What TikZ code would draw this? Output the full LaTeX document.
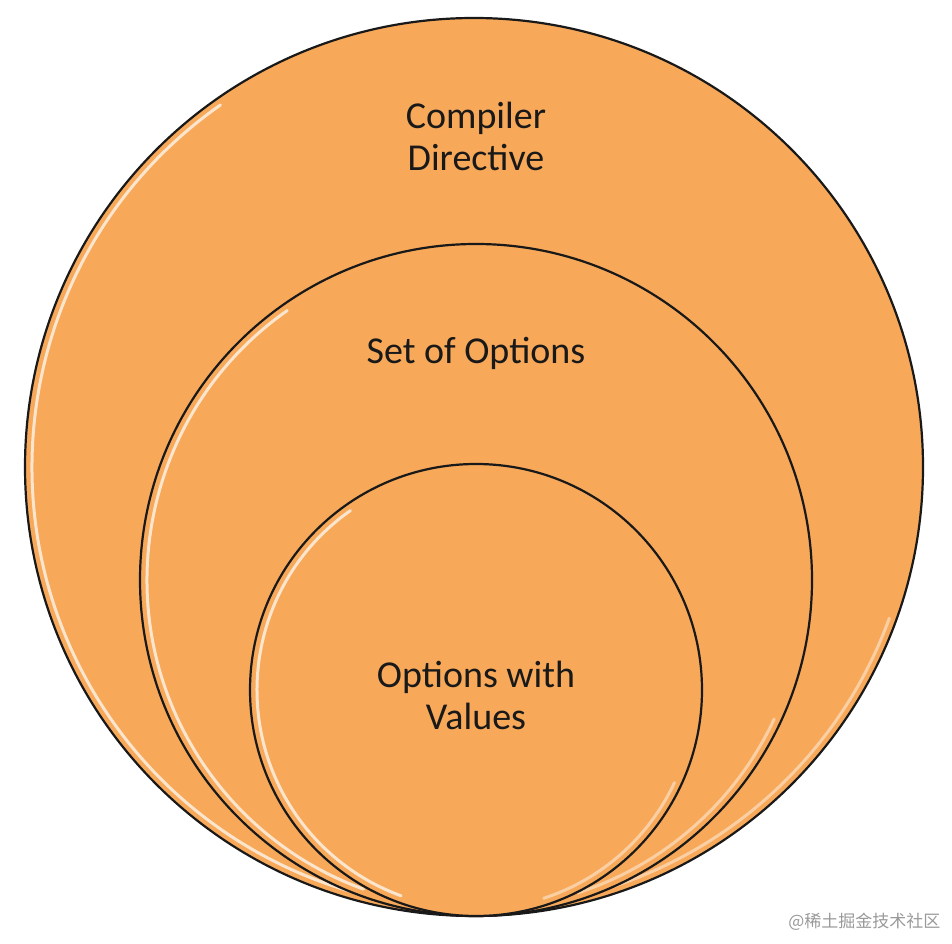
\documentclass[tikz,border=0pt]{standalone}
\usepackage{fontspec}
\setmainfont{Carlito}
\newfontfamily\cjkfont{Noto Sans CJK SC}
\definecolor{ringorange}{HTML}{F7A859}

\begin{document}
\begin{tikzpicture}[
  x=1pt,y=1pt,
  ring/.style={circle,draw=black!90,line width=2.2pt,fill=ringorange,inner sep=0pt},
  shine/.style={white,line width=3pt,opacity=0.7,line cap=round},
  label/.style={align=center,font=\fontsize{38}{42}\selectfont,text=black!90}
]
\useasboundingbox (0,0) rectangle (952,943);
% nested circles, tangent at the bottom
\node[ring,minimum size=898pt] (outer) at (474,476) {};
\draw[shine] (474,476) ++(125:442) arc[start angle=125,end angle=255,radius=442];
\draw[shine,opacity=0.45] (474,476) ++(-72:442) arc[start angle=-72,end angle=-20,radius=442];
\node[ring,minimum size=672pt] (middle) at (476,363) {};
\draw[shine] (476,363) ++(125:329) arc[start angle=125,end angle=250,radius=329];
\draw[shine,opacity=0.45] (476,363) ++(-72:329) arc[start angle=-72,end angle=-25,radius=329];
\node[ring,minimum size=452pt] (inner) at (476,253) {};
\draw[shine] (476,253) ++(125:219) arc[start angle=125,end angle=250,radius=219];
\draw[shine,opacity=0.45] (476,253) ++(-72:219) arc[start angle=-72,end angle=-25,radius=219];
% labels
\node[label] (directive) at (476,807) {Compiler\\Directive};
\node[label] (options) at (476,590) {Set of Options};
\node[label] (values) at (476,248) {Options with\\Values};
\node[font=\cjkfont\fontsize{17}{20}\selectfont,text=black!40,anchor=east] (mark) at (944,21) {@稀土掘金技术社区};
\end{tikzpicture}
\end{document}
